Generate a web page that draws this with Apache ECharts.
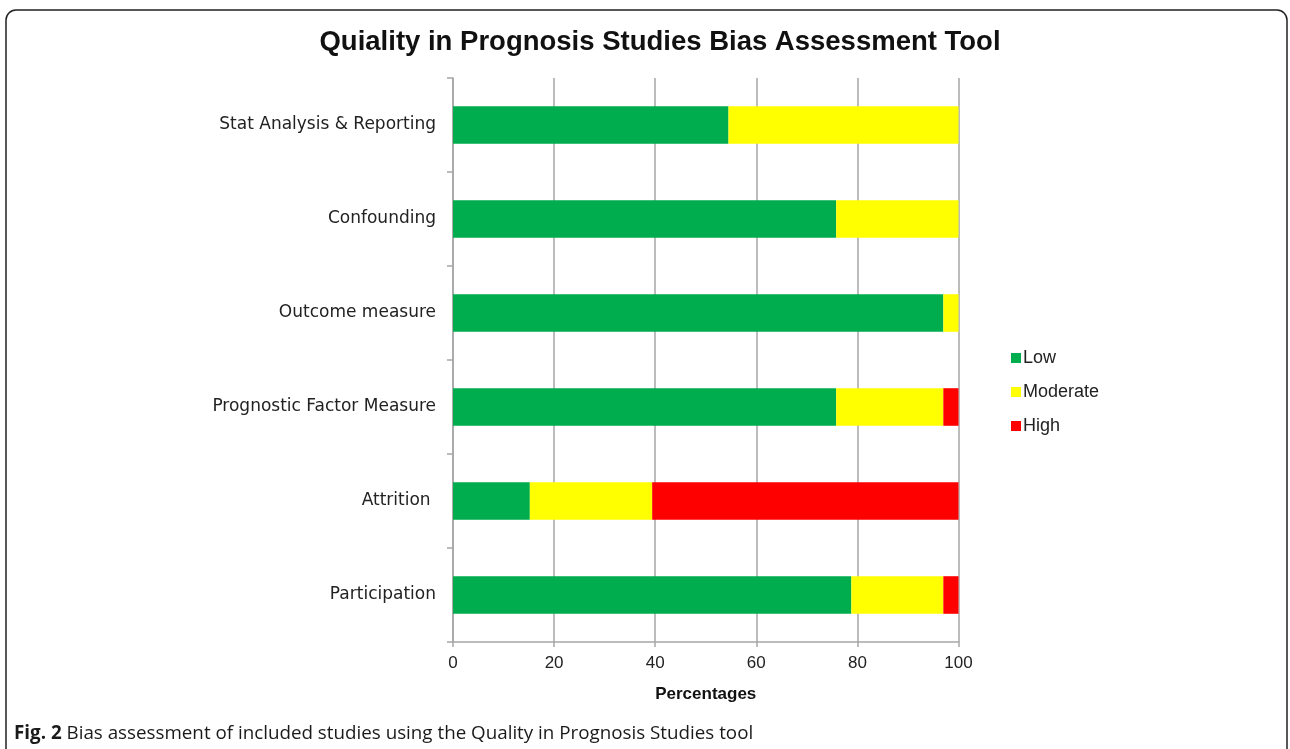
<!DOCTYPE html>
<html>
<head>
<meta charset="utf-8">
<script src="https://cdn.jsdelivr.net/npm/echarts@6/dist/echarts.min.js"></script>
<style>
html,body{margin:0;padding:0;background:#fff;}
#chart{width:1290px;height:749px;}
</style>
</head>
<body>
<div id="chart"></div>
<script>
// Categories listed bottom-to-top
const categories = ['Participation', 'Attrition ', 'Prognostic Factor Measure', 'Outcome measure', 'Confounding', 'Stat Analysis & Reporting'];
const lowValues = [78.8, 15.2, 75.8, 97.0, 75.8, 54.5];
const moderateValues = [18.2, 24.2, 21.2, 3.0, 24.2, 45.5];
const highValues = [3.0, 60.6, 3.0, 0, 0, 0];
const seriesNames = ['Low', 'Moderate', 'High'];
const xTicks = [0, 20, 40, 60, 80, 100];

const chart = echarts.init(document.getElementById('chart'), null, {renderer: 'canvas'});
const colors = ['#00AD4E', '#FFFF00', '#FF0000'];
const seriesData = [lowValues, moderateValues, highValues];

const option = {
  animation: false,
  textStyle: {fontFamily: 'Liberation Sans, Arial, sans-serif'},
  title: [{
    text: 'Quiality in Prognosis Studies Bias Assessment Tool',
    left: 655, top: 23, textAlign: 'center',
    textStyle: {fontFamily: 'Liberation Sans, Arial, sans-serif', fontSize: 27.5, fontWeight: 'bold', color: '#111'}
  }, {
    text: '{b|Fig. 2} Bias assessment of included studies using the Quality in Prognosis Studies tool',
    left: 9, top: 719,
    textStyle: {
      rich: {
        b: {fontFamily: 'Open Sans, sans-serif', fontWeight: 'bold', fontSize: 18.8, color: '#1a1a1a'}
      },
      fontFamily: 'Open Sans, sans-serif', fontSize: 18.8, fontWeight: 'normal', color: '#1a1a1a'
    }
  }],
  graphic: [{
    type: 'rect', silent: true,
    shape: {x: 6, y: 10, width: 1281, height: 780, r: 10},
    style: {fill: 'none', stroke: '#222', lineWidth: 1.5}
  }],
  legend: {
    orient: 'vertical', left: 1006, top: 344,
    itemWidth: 10, itemHeight: 10, itemGap: 16, icon: 'rect',
    data: seriesNames,
    textStyle: {fontSize: 18, color: '#222', padding: [0, 0, 0, -3]}
  },
  grid: {left: 453, right: 331.5, top: 78, bottom: 107},
  xAxis: {
    type: 'value', min: 0, max: 100, interval: 20,
    name: 'Percentages', nameLocation: 'middle', nameGap: 44,
    nameTextStyle: {fontSize: 17, fontWeight: 'bold', color: '#111'},
    axisLine: {show: true, lineStyle: {color: '#a6a6a6', width: 1.5}},
    axisTick: {show: true, length: 5, lineStyle: {color: '#a6a6a6', width: 1.5}},
    axisLabel: {fontSize: 17, color: '#222', margin: 13,
      formatter: v => xTicks.includes(v) ? String(v) : ''},
    splitLine: {show: true, lineStyle: {color: '#a6a6a6', width: 1.5}}
  },
  yAxis: {
    type: 'category', data: categories,
    axisLine: {show: true, lineStyle: {color: '#a6a6a6', width: 1.5}},
    axisTick: {show: true, length: 6, lineStyle: {color: '#a6a6a6', width: 1.5}},
    axisLabel: {fontSize: 17, color: '#222', margin: 17, fontFamily: 'DejaVu Sans, sans-serif'}
  },
  series: seriesNames.map((name, i) => ({
    name, type: 'bar', stack: 'total',
    barCategoryGap: '60%',
    itemStyle: {color: colors[i]},
    data: seriesData[i]
  }))
};
chart.setOption(option);
</script>
</body>
</html>
